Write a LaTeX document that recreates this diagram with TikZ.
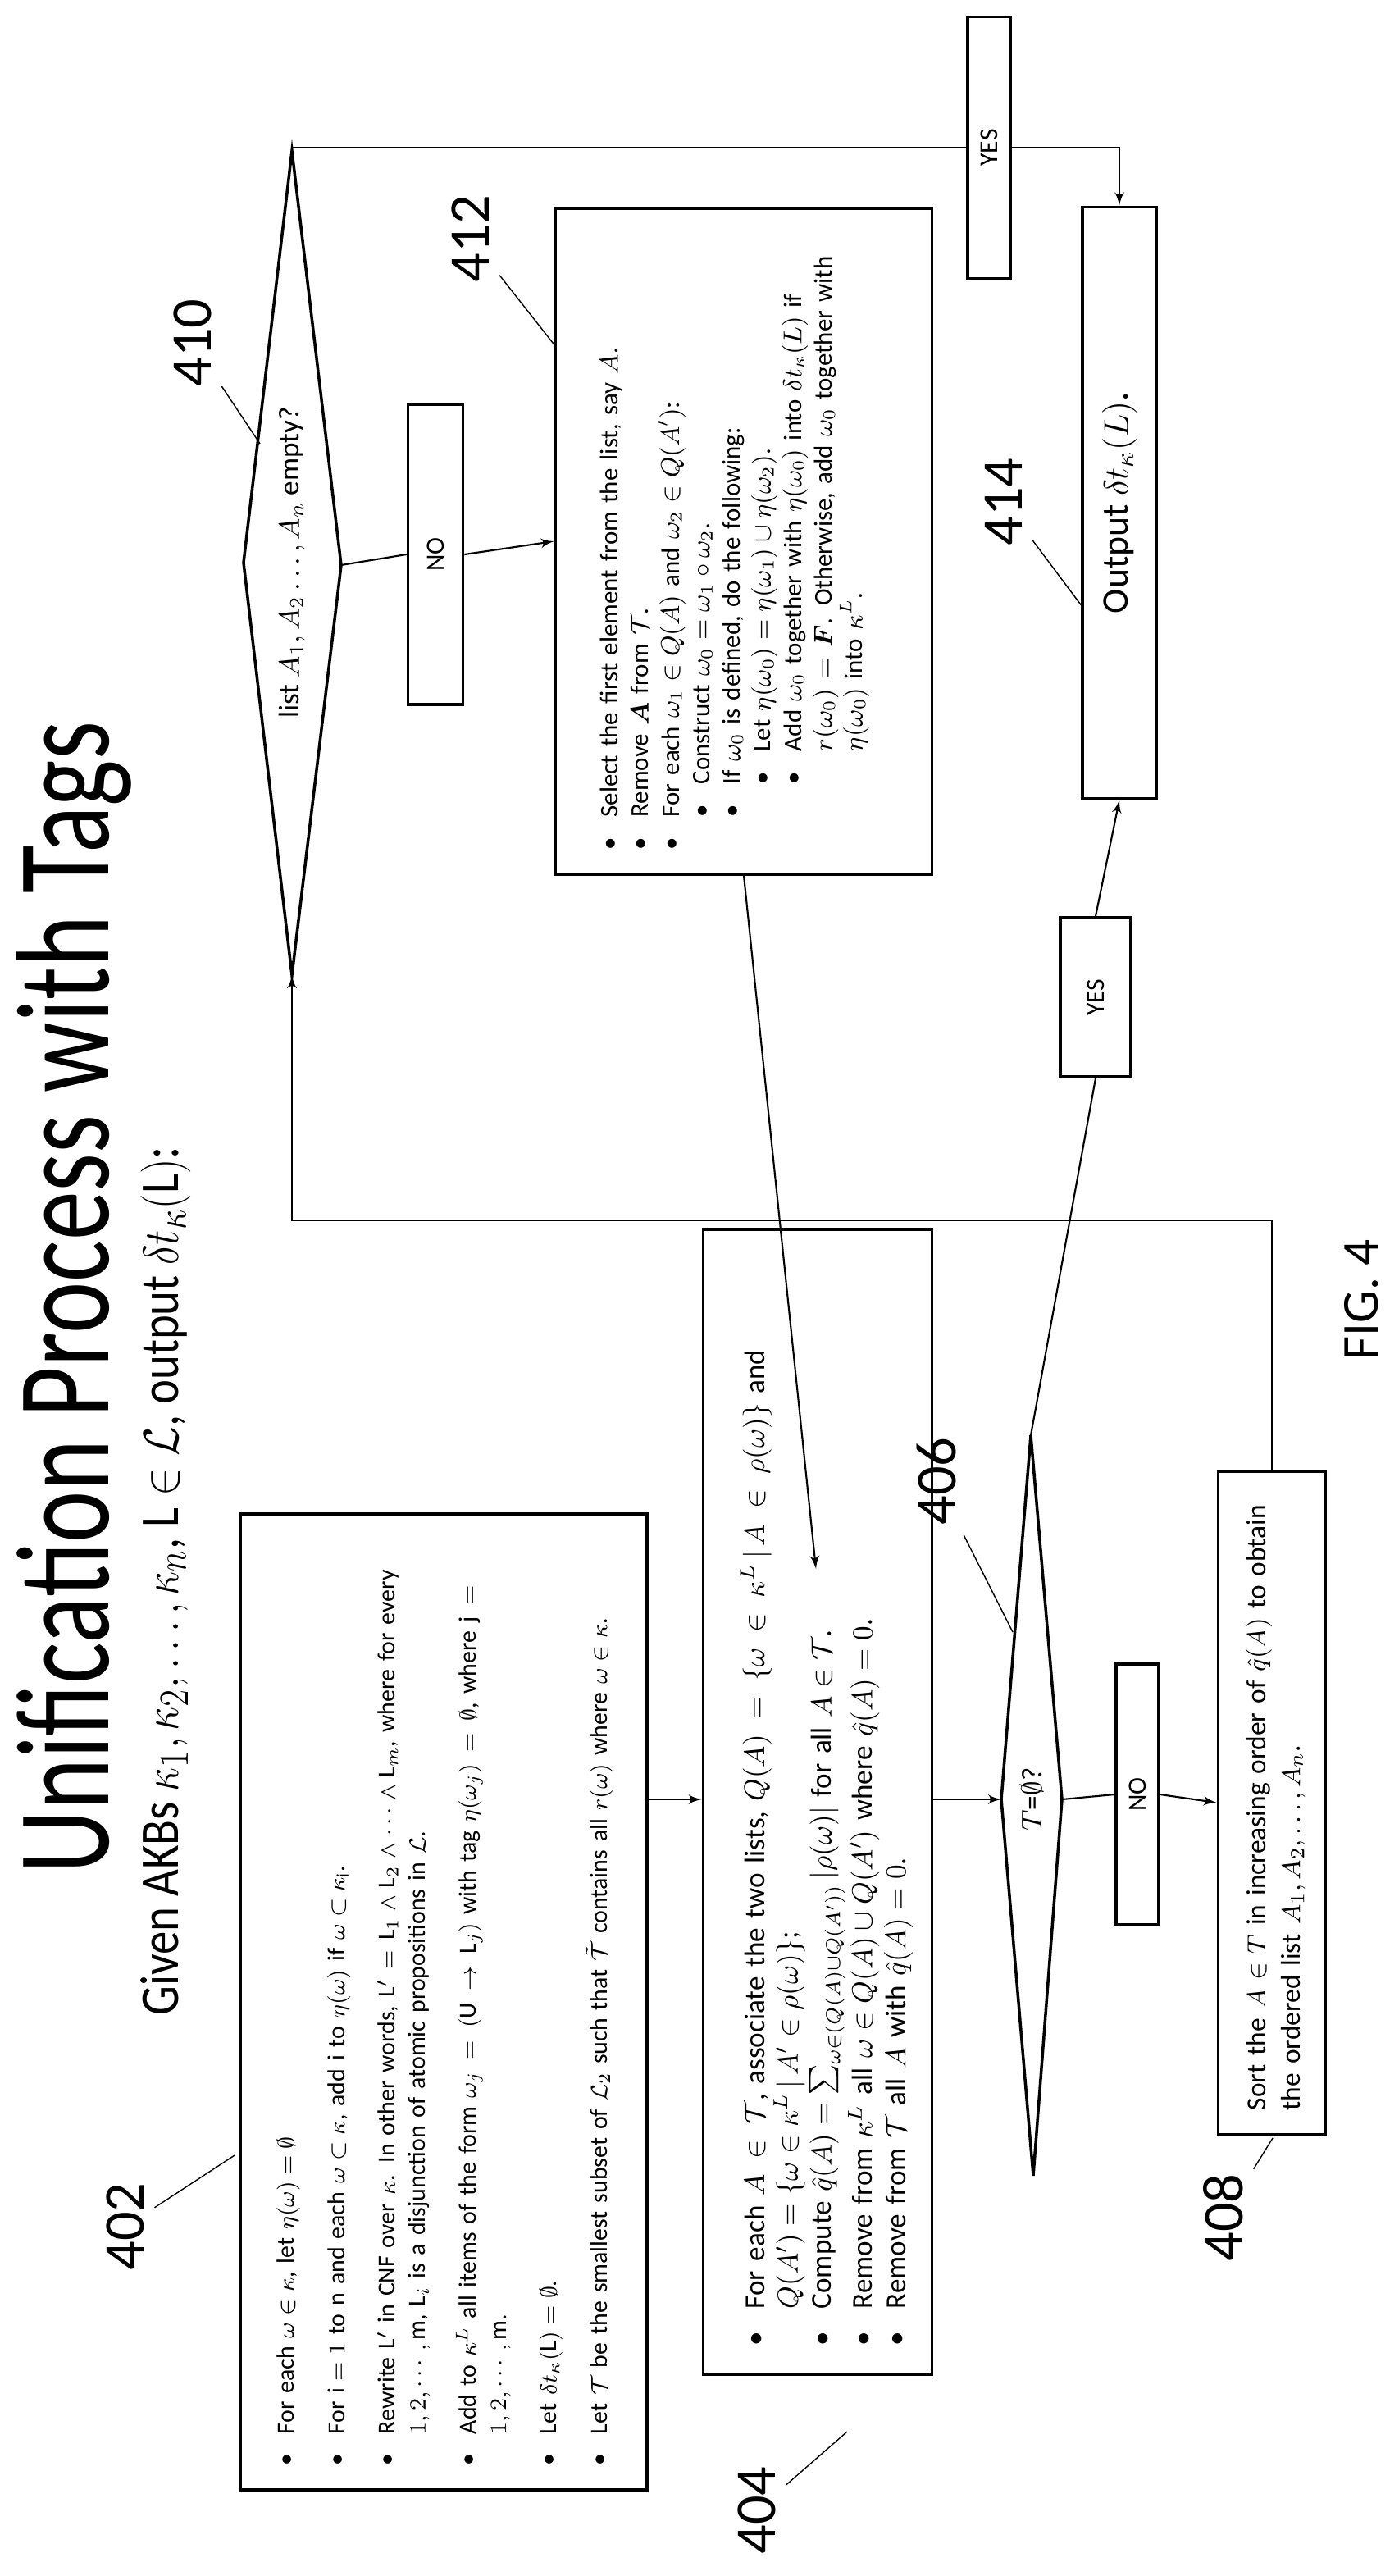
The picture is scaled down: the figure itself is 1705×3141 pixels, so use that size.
\documentclass[tikz,border=0pt]{standalone}
\usepackage{fontspec}
\usepackage{amsmath,amssymb}
\setmainfont{Carlito}
\usetikzlibrary{arrows}
\newcommand{\bitem}[2][0em]{\par\noindent\hangindent=\dimexpr#1+1.3em\relax\hangafter=1\hspace*{#1}\makebox[1.3em][l]{\textbullet}#2\par}
\begin{document}
\begin{tikzpicture}[x=0.01cm,y=-0.01cm]
   \tikzstyle{line} = [draw, line width=0.6pt, -latex']
   \tikzstyle{box} = [draw, line width=1pt, rotate=90, inner sep=0pt, fill=white]
   \tikzstyle{txt} = [rotate=90, anchor=north west, inner sep=0pt, align=left]
   \tikzstyle{num} = [rotate=90, font=\fontsize{20}{20}\selectfont]
   \useasboundingbox (0,0) rectangle (1705,3141);

   % titles
   \node[rotate=90, font=\fontsize{46}{46}\selectfont] (title) at (90,1582) {\scalebox{0.74}[1]{Unification Process with Tags}};
   \node[rotate=90, font=\fontsize{19}{19}\selectfont] (subtitle) at (202,1928)
     {\scalebox{0.85}[1]{Given AKBs $\kappa_1, \kappa_2, \dots, \kappa_n$, $\mathrm{L}\in\mathcal{L}$, output $\delta t_\kappa(\mathrm{L})$:}};
   \node[num, font=\fontsize{18}{18}\selectfont] (fig) at (1660,1585) {FIG. 4};

   % boxes
   \node[box, minimum width=11.89cm, minimum height=4.96cm] (b402) at (541,2441) {};
   \node[box, minimum width=13.95cm, minimum height=2.79cm] (b404) at (997,2197) {};
   \node[box, minimum width=8.11cm, minimum height=4.59cm] (b412) at (907,660) {};
   \node[box, minimum width=7.21cm, minimum height=0.90cm, font=\fontsize{13}{13}\selectfont] (b414) at (1365,613) {Output $\delta t_\kappa(L)$.};
   \node[box, minimum width=8.08cm, minimum height=1.31cm] (b408) at (1551,2198) {};
   \node[box, minimum width=3.66cm, minimum height=0.67cm, font=\small] (no1) at (531,676) {NO};
   \node[box, minimum width=3.19cm, minimum height=0.52cm, font=\small] (yes1) at (1206,180) {YES};
   \node[box, minimum width=1.94cm, minimum height=0.86cm, font=\small] (yes2) at (1336,1216) {YES};
   \node[box, minimum width=3.18cm, minimum height=0.52cm, font=\small] (no2) at (1387,2188) {NO};

   % box texts
   \node[txt, text width=11.2cm, font=\fontsize{8.5}{10.5}\selectfont] (t402) at ([xshift=0.3cm,yshift=0.3cm]b402.north west) {%
     \bitem{For each $\omega\in\kappa$, let $\eta(\omega)=\emptyset$}\vspace{7pt}
     \bitem{For $\mathrm{i}=1$ to n and each $\omega\subset\kappa$, add i to $\eta(\omega)$ if $\omega\subset\kappa_{\mathrm{i}}$.}\vspace{7pt}
     \bitem{Rewrite L$'$ in CNF over $\kappa$. In other words, $\mathrm{L}'=\mathrm{L}_1\wedge\mathrm{L}_2\wedge\cdots\wedge\mathrm{L}_m$, where for every $1,2,\cdots,\mathrm{m}$, $\mathrm{L}_i$ is a disjunction of atomic propositions in $\mathcal{L}$.}\vspace{7pt}
     \bitem{Add to $\kappa^L$ all items of the form $\omega_j=(\mathrm{U}\rightarrow\mathrm{L}_j)$ with tag $\eta(\omega_j)=\emptyset$, where $\mathrm{j}=1,2,\cdots,\mathrm{m}$.}\vspace{7pt}
     \bitem{Let $\delta t_\kappa(\mathrm{L})=\emptyset$.}\vspace{7pt}
     \bitem{Let $\mathcal{T}$ be the smallest subset of $\mathcal{L}_2$ such that $\tilde{\mathcal{T}}$ contains all $r(\omega)$ where $\omega\in\kappa$.}};
   \node[txt, text width=12.8cm, font=\fontsize{10}{11.6}\selectfont] (t404) at ([xshift=0.35cm,yshift=0.35cm]b404.north west) {%
     \bitem{For each $A\in\mathcal{T}$, associate the two lists, $Q(A)=\{\omega\in\kappa^L\,|\,A\in\rho(\omega)\}$ and $Q(A')=\{\omega\in\kappa^L\,|\,A'\in\rho(\omega)\}$;}
     \bitem{Compute $\hat q(A)=\sum_{\omega\in(Q(A)\cup Q(A'))}|\rho(\omega)|$ for all $A\in\mathcal{T}$.}
     \bitem{Remove from $\kappa^L$ all $\omega\in Q(A)\cup Q(A')$ where $\hat q(A)=0$.}
     \bitem{Remove from $\mathcal{T}$ all $A$ with $\hat q(A)=0$.}};
   \node[txt, text width=7.5cm, font=\fontsize{8.8}{10.6}\selectfont] (t412) at ([xshift=0.4cm,yshift=0.3cm]b412.north west) {%
     \bitem{Select the first element from the list, say $A$.}
     \bitem{Remove $\boldsymbol{A}$ from $\mathcal{T}$.}
     \bitem{For each $\omega_1\in Q(A)$ and $\omega_2\in Q(A')$:}
     \bitem[1.3em]{Construct $\omega_0=\omega_1\circ\omega_2$.}
     \bitem[1.3em]{If $\omega_0$ is defined, do the following:}
     \bitem[2.6em]{Let $\eta(\omega_0)=\eta(\omega_1)\cup\eta(\omega_2)$.}
     \bitem[2.6em]{Add $\omega_0$ together with $\eta(\omega_0)$ into $\delta t_\kappa(L)$ if $r(\omega_0)=\boldsymbol{F}$. Otherwise, add $\omega_0$ together with $\eta(\omega_0)$ into $\kappa^L$.}};
   \node[txt, text width=7.5cm, font=\fontsize{9.5}{12}\selectfont] (t408) at ([xshift=0.35cm,yshift=0.3cm]b408.north west) {%
     Sort the $A\in T$ in increasing order of $\hat q(A)$ to obtain the ordered list $A_1, A_2, \dots, A_n$.};

   % decisions
   \coordinate (d410t) at (356,184);
   \coordinate (d410r) at (416,689);
   \coordinate (d410b) at (356,1189);
   \coordinate (d410l) at (297,686);
   \draw[line width=1pt] (d410t) -- (d410r) -- (d410b) -- (d410l) -- cycle;
   \node[rotate=90, font=\fontsize{10}{10}\selectfont] (q410) at (356,686) {list $A_1, A_2 \dots, A_n$ empty?};
   \coordinate (d406t) at (1257,1750);
   \coordinate (d406r) at (1295,2194);
   \coordinate (d406b) at (1260,2653);
   \coordinate (d406l) at (1221,2194);
   \draw[line width=1pt] (d406t) -- (d406r) -- (d406b) -- (d406l) -- cycle;
   \node[rotate=90, font=\fontsize{10}{10}\selectfont] (q406) at (1258,2194) {$T$=$\emptyset$?};

   % reference numbers
   \node[num] (n402) at (153,2715) {402};
   \node[num] (n404) at (923,3061) {404};
   \node[num] (n406) at (1142,1806) {406};
   \node[num] (n408) at (1492,2704) {408};
   \node[num] (n410) at (235,418) {410};
   \node[num] (n412) at (574,291) {412};
   \node[num] (n414) at (1224,612) {414};
   \coordinate (p402) at (286,2628);
   \coordinate (p404) at (1033,2965);
   \coordinate (p406) at (1235,1990);
   \coordinate (p408) at (1552,2607);
   \coordinate (p410) at (317,541);
   \coordinate (p412) at (678,423);
   \coordinate (p414) at (1320,740);
   \draw (n402) -- (p402);
   \draw (n404) -- (p404);
   \draw (n406) -- (p406);
   \draw (n408) -- (p408);
   \draw (n410) -- (p410);
   \draw (n412) -- (p412);
   \draw (n414) -- (p414);

   % connectors
   \coordinate (tip) at (995,1913);
   \path [line] (b402.south |- d406l) -- (b404.north |- d406l);
   \path [line] (b404.south |- d406l) -- (d406l);
   \path [draw, line width=0.6pt] (d406r) -- (no2.north);
   \path [line] (no2.south) -- (b408.north);
   \path [line] (b408.east) -- ++(0,-304) -| (d410b);
   \path [draw, line width=0.6pt] (d410r) -- (no1.north);
   \path [line] (no1.south) -- (b412.north);
   \path [draw, line width=0.6pt] (d410t) |- (yes1.north);
   \path [line] (yes1.south) -| (b414.east);
   \path [draw, line width=0.6pt] (d406t) -- (yes2.west);
   \path [line] (yes2.east) -- (b414.west);
   \path [line] (b412.west) -- (tip);
\end{tikzpicture}
\end{document}
